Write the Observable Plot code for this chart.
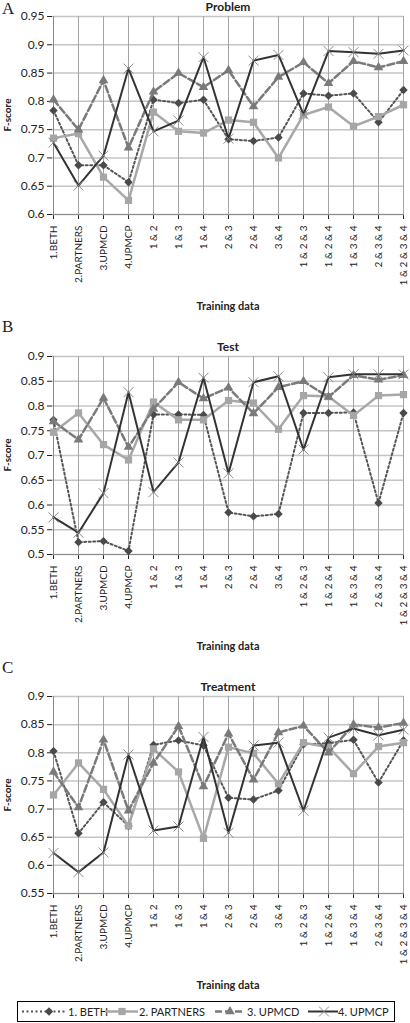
<!DOCTYPE html>
<html>
<head>
<meta charset="utf-8">
<script src="https://cdn.jsdelivr.net/npm/d3@7"></script>
<script src="https://cdn.jsdelivr.net/npm/@observablehq/plot@0.6"></script>
<style>
  body { margin: 0; background: #fff; }
  #wrap { position: relative; width: 410px; height: 1023px; overflow: hidden; font-family: Lato, "Open Sans", sans-serif; color: #222; }
  .abs { position: absolute; }
  .letter { font-family: "Liberation Serif", "DejaVu Serif", serif; font-size: 17px; line-height: 1; }
  .title { font-weight: bold; font-size: 12px; line-height: 1; width: 200px; text-align: center; }
  .xlab { font-weight: bold; font-size: 11px; line-height: 1; width: 200px; text-align: center; }
  .ylab { font-weight: bold; font-size: 10px; line-height: 1; width: 80px; text-align: center; transform: rotate(-90deg); }
  svg [aria-label^="x-axis"] text { font-size: 10px; }
  svg [aria-label^="y-axis"] text { font-size: 12px; }
</style>
</head>
<body>
<div id="wrap"></div>
<script>
const categories = ["1.BETH","2.PARTNERS","3.UPMCD","4.UPMCP","1 & 2","1 & 3","1 & 4","2 & 3","2 & 4","3 & 4","1 & 2 & 3","1 & 2 & 4","1 & 3 & 4","2 & 3 & 4","1 & 2 & 3 & 4"];
const seriesNames = ["1. BETH","2. PARTNERS","3. UPMCD","4. UPMCP"];

// Problem
const problemBETH     = [0.784,0.687,0.687,0.657,0.803,0.797,0.803,0.733,0.730,0.736,0.814,0.810,0.814,0.763,0.820];
const problemPARTNERS = [0.735,0.743,0.666,0.625,0.781,0.747,0.744,0.767,0.763,0.700,0.776,0.790,0.756,0.773,0.794];
const problemUPMCD    = [0.803,0.750,0.837,0.718,0.817,0.850,0.825,0.855,0.791,0.843,0.869,0.832,0.871,0.860,0.871];
const problemUPMCP    = [0.727,0.651,0.704,0.858,0.747,0.766,0.878,0.734,0.872,0.882,0.777,0.889,0.887,0.884,0.890];
// Test
const testBETH     = [0.772,0.525,0.527,0.507,0.783,0.783,0.782,0.585,0.577,0.582,0.786,0.786,0.787,0.604,0.786];
const testPARTNERS = [0.747,0.786,0.722,0.691,0.808,0.772,0.772,0.811,0.806,0.753,0.821,0.819,0.781,0.821,0.823];
const testUPMCD    = [0.769,0.732,0.816,0.717,0.794,0.848,0.815,0.837,0.785,0.838,0.850,0.818,0.862,0.853,0.862];
const testUPMCP    = [0.575,0.544,0.624,0.828,0.626,0.686,0.857,0.664,0.848,0.860,0.712,0.858,0.864,0.864,0.864];
// Treatment
const treatBETH     = [0.803,0.657,0.712,0.670,0.814,0.822,0.813,0.720,0.717,0.733,0.815,0.817,0.823,0.747,0.822];
const treatPARTNERS = [0.725,0.782,0.735,0.670,0.807,0.766,0.648,0.810,0.799,0.745,0.818,0.810,0.763,0.811,0.818];
const treatUPMCD    = [0.766,0.703,0.823,0.697,0.782,0.847,0.740,0.834,0.752,0.836,0.848,0.800,0.850,0.845,0.853];
const treatUPMCP    = [0.622,0.588,0.623,0.797,0.662,0.669,0.828,0.658,0.813,0.818,0.697,0.827,0.843,0.831,0.841];

const problemTicks = [0.6,0.65,0.7,0.75,0.8,0.85,0.9,0.95];
const testTicks    = [0.5,0.55,0.6,0.65,0.7,0.75,0.8,0.85,0.9];
const treatTicks   = [0.55,0.6,0.65,0.7,0.75,0.8,0.85,0.9];

const styles = [
  {line: "#555555", width: 2, dash: "2,2.5", symbol: "diamond2", fill: "#4a4a4a", stroke: "none", r: 3.8, sw: 0},
  {line: "#a8a8a8", width: 2.5, dash: null, symbol: "square2", fill: "#a6a6a6", stroke: "none", r: 4.6, sw: 0},
  {line: "#7a7a7a", width: 2.5, dash: "7,3", symbol: "triangle2", fill: "#7a7a7a", stroke: "none", r: 4.6, sw: 0},
  {line: "#333333", width: 2, dash: null, symbol: "times", fill: "none", stroke: "#8c8c8c", r: 4.6, sw: 1}
];

const wrap = document.getElementById("wrap");

function addText(cls, text, left, top) {
  const d = document.createElement("div");
  d.className = "abs " + cls;
  d.textContent = text;
  d.style.left = left + "px";
  d.style.top = top + "px";
  wrap.appendChild(d);
}

function panel(letter, letterTop, title, series, ticks, top, marginTop, height, marginBottom) {
  const rows = [];
  series.forEach((vals, s) => vals.forEach((v, i) => rows.push({series: s, cat: categories[i], v})));
  const marks = [
    Plot.ruleY(ticks, {stroke: "#c4c4c4", strokeWidth: 1.5}),
    Plot.ruleX(categories, {stroke: "#a5a5a5", strokeWidth: 1}),
    Plot.ruleY([ticks[0]], {stroke: "#8a8a8a", strokeWidth: 1}),
    Plot.ruleX([categories[0]], {stroke: "#8a8a8a", strokeWidth: 1})
  ];
  styles.forEach((st, s) => {
    const data = rows.filter(d => d.series === s);
    marks.push(Plot.line(data, {x: "cat", y: "v", stroke: st.line, strokeWidth: st.width, strokeDasharray: st.dash || undefined}));
    marks.push(Plot.dot(data, {x: "cat", y: "v", symbol: st.symbol, r: st.r, fill: st.fill, stroke: st.stroke, strokeWidth: st.sw}));
  });
  const svg = Plot.plot({
    width: 410,
    height,
    marginTop,
    marginBottom,
    marginLeft: 52,
    marginRight: 6,
    style: {fontFamily: "Lato, 'Open Sans', sans-serif", color: "#222", background: "transparent", overflow: "visible"},
    x: {type: "point", domain: categories, padding: 0, tickRotate: -90, tickSize: 5, tickPadding: 6, label: null},
    y: {domain: [ticks[0], ticks[ticks.length - 1]], ticks, tickFormat: d => String(d), tickSize: 5, tickPadding: 3, label: null},
    marks
  });
  svg.style.position = "absolute";
  svg.style.left = "0px";
  svg.style.top = top + "px";
  wrap.appendChild(svg);
  const plotTop = top + marginTop, plotBottom = top + height - marginBottom;
  addText("letter", letter, 2, letterTop);
  addText("title", title, 128, plotTop - 15);
  addText("xlab", "Training data", 128, plotBottom + 86);
  addText("ylab", "F-score", 7 - 40, (plotTop + plotBottom) / 2 - 5);
}

panel("A", 0, "Problem", [problemBETH, problemPARTNERS, problemUPMCD, problemUPMCP], problemTicks, 0, 16, 300, 86);
panel("B", 318, "Test", [testBETH, testPARTNERS, testUPMCD, testUPMCP], testTicks, 330, 26, 310, 86);
panel("C", 659, "Treatment", [treatBETH, treatPARTNERS, treatUPMCD, treatUPMCP], treatTicks, 670, 26, 310, 87);

// Legend
const leg = d3.create("svg").attr("width", 378).attr("height", 21)
  .style("position", "absolute").style("left", "17px").style("top", "1001px");
leg.append("rect").attr("x", 0.5).attr("y", 0.5).attr("width", 377).attr("height", 20)
  .attr("fill", "#fff").attr("stroke", "#000").attr("stroke-width", 1);
const legItems = [
  {x0: 5, x1: 48, mx: 32, tx: 51},
  {x0: 88, x1: 121, mx: 105, tx: 122},
  {x0: 198, x1: 228, mx: 213, tx: 230},
  {x0: 291, x1: 321, mx: 307, tx: 321}
];
const symbolMap = {diamond2: d3.symbolDiamond2 || d3.symbolDiamond, square2: d3.symbolSquare2 || d3.symbolSquare, triangle2: d3.symbolTriangle2 || d3.symbolTriangle, times: d3.symbolTimes || d3.symbolCross};
legItems.forEach((it, s) => {
  const st = styles[s];
  leg.append("line").attr("x1", it.x0).attr("x2", it.x1).attr("y1", 10.5).attr("y2", 10.5)
    .attr("stroke", st.line).attr("stroke-width", st.width).attr("stroke-dasharray", st.dash);
  leg.append("path").attr("d", d3.symbol(symbolMap[st.symbol], Math.PI * st.r * st.r)())
    .attr("transform", `translate(${it.mx},10.5)`)
    .attr("fill", st.fill).attr("stroke", st.stroke).attr("stroke-width", st.sw);
  leg.append("text").attr("x", it.tx).attr("y", 14.5).text(seriesNames[s])
    .attr("font-family", "Lato, 'Open Sans', sans-serif").attr("font-size", 11).attr("fill", "#222");
});
wrap.appendChild(leg.node());
</script>
</body>
</html>
